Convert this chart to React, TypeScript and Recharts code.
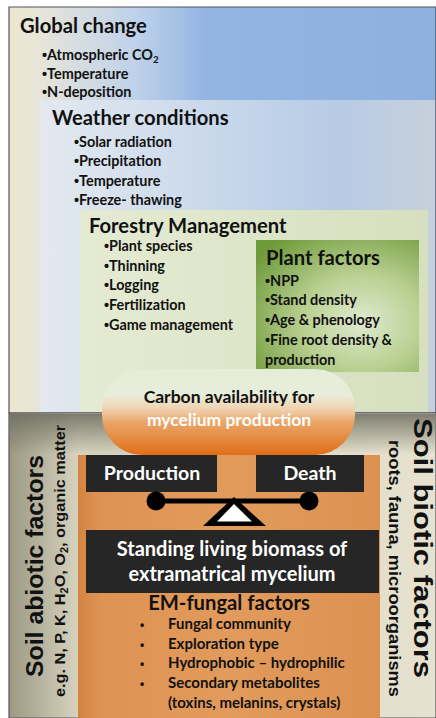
import { Surface, Layer, Rectangle, Polygon, Dot } from "recharts";

// text content of the diagram
const globalChange = ["Atmospheric CO_2", "Temperature", "N-deposition"];
const weather = ["Solar radiation", "Precipitation", "Temperature", "Freeze- thawing"];
const forestry = ["Plant species", "Thinning", "Logging", "Fertilization", "Game management"];
const plantFactors = ["NPP", "Stand density", "Age & phenology", "Fine root density &"];
const emFactors = ["Fungal community", "Exploration type", "Hydrophobic \u2013 hydrophilic", "Secondary  metabolites"];
const abiotic = ["Soil abiotic factors", "e.g. N, P, K, H_2O, O_2, organic matter"];
const biotic = ["Soil biotic factors", "roots, fauna, microorganisms"];

const CAL = "Lato, 'Open Sans', sans-serif";
const ARI = "'Liberation Sans', Arial, sans-serif";

// splits "CO_2" style strings into tspans with subscripts
function rich(s: string, sub: number, shift: number) {
  const parts = s.split(/(_\d)/).filter((p) => p !== "");
  let down = false;
  return parts.map((p, i) => {
    if (p.startsWith("_")) {
      down = true;
      return (
        <tspan key={i} fontSize={sub} dy={shift}>
          {p.slice(1)}
        </tspan>
      );
    }
    const dy = down ? -shift : 0;
    down = false;
    return (
      <tspan key={i} dy={dy}>
        {p}
      </tspan>
    );
  });
}

function Bullets({ items, x, y, step, size }: { items: string[]; x: number; y: number; step: number; size: number }) {
  return (
    <Layer>
      {items.map((t, i) => (
        <text key={t} x={x} y={y + i * step} fontFamily={CAL} fontWeight={700} fontSize={size} fill="#111">
          <tspan fontFamily={ARI}>{"\u2022"}</tspan>
          {rich(t, size * 0.68, 3)}
        </text>
      ))}
    </Layer>
  );
}

function Heading({ x, y, children, anchor = "start", size = 20.2, fill = "#111" }: any) {
  return (
    <text x={x} y={y} fontFamily={CAL} fontWeight={700} fontSize={size} fill={fill} textAnchor={anchor}>
      {children}
    </text>
  );
}

export default function App() {
  return (
    <div style={{ position: "absolute", left: 0, top: 0, width: 436, height: 718, background: "#fff" }}>
      <Surface width={436} height={718}>
        <defs>
          <linearGradient id="gTop" x1="0" y1="0" x2="1" y2="0">
            <stop offset="0" stopColor="#ebe6d1" />
            <stop offset="0.06" stopColor="#e8e6d8" />
            <stop offset="0.3" stopColor="#bed1ea" />
            <stop offset="0.46" stopColor="#93b5e2" />
            <stop offset="1" stopColor="#8cb0e0" />
          </linearGradient>
          <linearGradient id="gWeather" x1="0" y1="0" x2="1" y2="0">
            <stop offset="0" stopColor="#e3e9ef" />
            <stop offset="0.45" stopColor="#c8d8eb" />
            <stop offset="0.75" stopColor="#b7cbe5" />
            <stop offset="1" stopColor="#c6d0dc" />
          </linearGradient>
          <linearGradient id="gForest" x1="0" y1="0" x2="1" y2="0">
            <stop offset="0" stopColor="#e5ebd3" />
            <stop offset="1" stopColor="#d6dfbf" />
          </linearGradient>
          <radialGradient id="gPlant" cx="0.65" cy="0.62" r="0.8">
            <stop offset="0" stopColor="#e0eacf" />
            <stop offset="0.45" stopColor="#b9d092" />
            <stop offset="1" stopColor="#6f9a3a" />
          </radialGradient>
          <linearGradient id="gLow" x1="0" y1="0" x2="1" y2="0">
            <stop offset="0" stopColor="#9b9883" />
            <stop offset="0.16" stopColor="#d6d2bd" />
            <stop offset="1" stopColor="#e6e2cf" />
          </linearGradient>
          <linearGradient id="gShade" x1="0" y1="0" x2="0" y2="1">
            <stop offset="0" stopColor="#6e6d5e" stopOpacity="0.85" />
            <stop offset="1" stopColor="#6e6d5e" stopOpacity="0" />
          </linearGradient>
          <linearGradient id="gOrange" x1="0" y1="0" x2="1" y2="0">
            <stop offset="0" stopColor="#d48440" />
            <stop offset="0.07" stopColor="#de9253" />
            <stop offset="0.5" stopColor="#e29b5c" />
            <stop offset="1" stopColor="#dc9150" />
          </linearGradient>
          <linearGradient id="gPill" x1="0" y1="0" x2="0" y2="1">
            <stop offset="0" stopColor="#e4edd7" />
            <stop offset="0.3" stopColor="#e9eddb" />
            <stop offset="0.46" stopColor="#f0d3b2" />
            <stop offset="0.62" stopColor="#eaa568" />
            <stop offset="1" stopColor="#df6f1a" />
          </linearGradient>
        </defs>

        {/* upper panel */}
        <Rectangle x={9} y={7} width={427} height={406} fill="url(#gTop)" stroke="#555" strokeWidth={1.2} />
        <Rectangle x={40} y={100} width={395} height={312} fill="url(#gWeather)" />
        <Rectangle x={80} y={210} width={348} height={202} fill="url(#gForest)" />
        <Rectangle x={256} y={240} width={163} height={132} fill="url(#gPlant)" />

        <Heading x={20} y={33}>Global change</Heading>
        <Bullets items={globalChange} x={42} y={60} step={18.5} size={14.4} />
        <Heading x={52} y={125}>Weather conditions</Heading>
        <Bullets items={weather} x={74} y={146.5} step={19.5} size={14.4} />
        <Heading x={89} y={233}>Forestry Management</Heading>
        <Bullets items={forestry} x={104} y={251} step={19.7} size={14.4} />
        <Heading x={266} y={265}>Plant factors</Heading>
        <Bullets items={plantFactors} x={265} y={285.5} step={19.8} size={14.4} />
        <text x={265} y={364.5} fontFamily={CAL} fontWeight={700} fontSize={14.4} fill="#111">
          production
        </text>

        {/* lower panel */}
        <Rectangle x={9} y={413} width={427} height={305} fill="url(#gLow)" stroke="#555" strokeWidth={1.2} />
        <Rectangle x={9.6} y={414} width={426} height={40} fill="url(#gShade)" />
        <Rectangle x={78} y={455} width={302} height={263} fill="url(#gOrange)" />

        <Rectangle x={102} y={369} width={253} height={86} radius={40} fill="url(#gPill)" />
        <Heading x={229} y={403} anchor="middle" size={17.5}>Carbon availability for</Heading>
        <Heading x={229} y={426} anchor="middle" size={17.5} fill="#fff">mycelium production</Heading>

        <Rectangle x={86} y={455} width={131} height={37} fill="#262626" />
        <Rectangle x={256} y={455} width={108} height={37} fill="#262626" />
        <Heading x={152} y={480} anchor="middle" size={19.5} fill="#fff">Production</Heading>
        <Heading x={310} y={480} anchor="middle" size={19.5} fill="#fff">Death</Heading>

        {/* balance */}
        <line x1={156} y1={501} x2={309} y2={501} stroke="#000" strokeWidth={5} />
        <Dot cx={156} cy={501} r={9.5} fill="#000" />
        <Dot cx={309} cy={501} r={9.5} fill="#000" />
        <Polygon points={[{ x: 234, y: 497 }, { x: 203, y: 526 }, { x: 266, y: 526 }]} fill="#000" />
        <Polygon points={[{ x: 234, y: 504 }, { x: 217, y: 521.5 }, { x: 252, y: 521.5 }]} fill="#fff" />

        <Rectangle x={86} y={530} width={293} height={63} fill="#262626" />
        <Heading x={232} y={556} anchor="middle" size={20} fill="#fff">Standing living biomass of</Heading>
        <Heading x={232} y={581} anchor="middle" size={20} fill="#fff">extramatrical mycelium</Heading>

        <Heading x={229} y={610} anchor="middle">EM-fungal factors</Heading>
        <Layer>
          {emFactors.map((t, i) => (
            <g key={t}>
              <text x={140} y={629 + i * 19.6} fontFamily={ARI} fontWeight={700} fontSize={12} fill="#111">
                {"\u2022"}
              </text>
              <text x={168} y={629 + i * 19.6} fontFamily={CAL} fontWeight={700} fontSize={15} fill="#111">
                {t}
              </text>
            </g>
          ))}
          <text x={168} y={708} fontFamily={CAL} fontWeight={700} fontSize={15} fill="#111">
            (toxins, melanins, crystals)
          </text>
        </Layer>

        {/* side labels */}
        <text
          transform="translate(43,677) rotate(-90)"
          fontFamily={ARI}
          fontWeight={700}
          fontSize={24}
          fill="#111"
          textLength={222}
          lengthAdjust="spacingAndGlyphs"
        >
          {abiotic[0]}
        </text>
        <text
          transform="translate(65,697) rotate(-90)"
          fontFamily={ARI}
          fontWeight={700}
          fontSize={15}
          fill="#111"
          textLength={272}
          lengthAdjust="spacingAndGlyphs"
        >
          {rich(abiotic[1], 10, 3)}
        </text>
        <text
          transform="translate(414,418) rotate(90)"
          fontFamily={ARI}
          fontWeight={700}
          fontSize={25}
          fill="#111"
          textLength={260}
          lengthAdjust="spacingAndGlyphs"
        >
          {biotic[0]}
        </text>
        <text
          transform="translate(389,440) rotate(90)"
          fontFamily={ARI}
          fontWeight={700}
          fontSize={16}
          fill="#111"
          textLength={257}
          lengthAdjust="spacingAndGlyphs"
        >
          {biotic[1]}
        </text>
      </Surface>
    </div>
  );
}
